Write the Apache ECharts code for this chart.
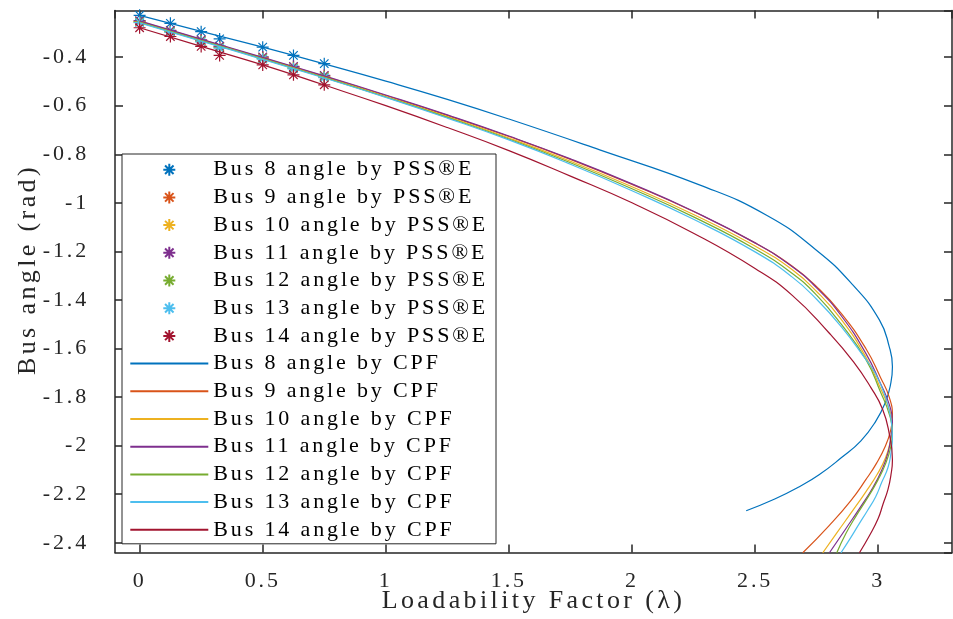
<!DOCTYPE html>
<html><head><meta charset="utf-8">
<script src="https://cdn.jsdelivr.net/npm/echarts@6/dist/echarts.min.js"></script>
<style>
html,body{margin:0;padding:0;background:#fff;}
#main{width:953px;height:619px;}
</style></head><body><div id="main"></div>
<script>
// ---- data ----
const busNumbers = [8, 9, 10, 11, 12, 13, 14];
const colors = ['#0072BD', '#D95319', '#EDB120', '#7E2F8E', '#77AC30', '#4DBEEE', '#A2142F'];

// PSS®E results (markers): loadability factor and bus angle (rad)
const psseLambda = [0, 0.125, 0.25, 0.325, 0.5, 0.625, 0.75];
const psseBus8  = [-0.228, -0.261, -0.295, -0.325, -0.359, -0.393, -0.427];
const psseBus9  = [-0.252, -0.292, -0.331, -0.357, -0.401, -0.440, -0.477];
const psseBus10 = [-0.254, -0.294, -0.333, -0.359, -0.403, -0.443, -0.480];
const psseBus11 = [-0.250, -0.290, -0.329, -0.355, -0.399, -0.438, -0.475];
const psseBus12 = [-0.256, -0.296, -0.335, -0.361, -0.406, -0.446, -0.482];
const psseBus13 = [-0.258, -0.298, -0.337, -0.363, -0.408, -0.448, -0.485];
const psseBus14 = [-0.279, -0.315, -0.356, -0.393, -0.432, -0.473, -0.514];

// CPF results (curves): [lambda, angle]
const cpfBus8 = [[0,-0.228],[0.25,-0.294],[0.5,-0.359],[0.75,-0.428],[1.0,-0.499],[1.25,-0.574],[1.5,-0.655],[1.869,-0.782],[2.274,-0.926],[2.545,-1.050],[2.748,-1.194],[2.897,-1.338],[3.005,-1.482],[3.045,-1.592],[3.058,-1.675],[3.05,-1.75],[3.03,-1.82],[2.99,-1.90],[2.93,-1.98],[2.85,-2.05],[2.76,-2.12],[2.68,-2.169],[2.58,-2.22],[2.464,-2.268]];
const cpfBus9 = [[0,-0.253],[0.25,-0.328],[0.5,-0.403],[0.75,-0.479],[1.0,-0.558],[1.25,-0.640],[1.5,-0.727],[1.75,-0.821],[2.0,-0.924],[2.25,-1.036],[2.5,-1.165],[2.65,-1.26],[2.75,-1.345],[2.85,-1.455],[2.95,-1.60],[3.01,-1.72],[3.045,-1.80],[3.058,-1.88],[3.05,-1.94],[3.03,-2.00],[2.995,-2.07],[2.95,-2.14],[2.89,-2.225],[2.80,-2.33],[2.694,-2.441]];
const cpfBus10 = [[0,-0.255],[0.25,-0.330],[0.5,-0.405],[0.75,-0.482],[1.0,-0.562],[1.25,-0.645],[1.5,-0.733],[1.75,-0.829],[2.0,-0.934],[2.25,-1.048],[2.5,-1.178],[2.65,-1.275],[2.75,-1.365],[2.85,-1.48],[2.95,-1.635],[3.01,-1.765],[3.045,-1.85],[3.058,-1.92],[3.05,-1.98],[3.03,-2.05],[2.995,-2.12],[2.95,-2.19],[2.895,-2.27],[2.835,-2.355],[2.775,-2.441]];
const cpfBus11 = [[0,-0.251],[0.25,-0.326],[0.5,-0.401],[0.75,-0.477],[1.0,-0.556],[1.25,-0.638],[1.5,-0.725],[1.75,-0.819],[2.0,-0.922],[2.25,-1.035],[2.5,-1.165],[2.65,-1.262],[2.75,-1.35],[2.85,-1.465],[2.95,-1.62],[3.01,-1.745],[3.045,-1.83],[3.058,-1.90],[3.052,-1.96],[3.04,-2.03],[3.015,-2.10],[2.98,-2.17],[2.93,-2.25],[2.87,-2.34],[2.802,-2.441]];
const cpfBus12 = [[0,-0.257],[0.25,-0.332],[0.5,-0.407],[0.75,-0.484],[1.0,-0.564],[1.25,-0.648],[1.5,-0.737],[1.75,-0.835],[2.0,-0.942],[2.25,-1.058],[2.5,-1.19],[2.65,-1.29],[2.75,-1.38],[2.85,-1.50],[2.95,-1.645],[3.01,-1.78],[3.045,-1.87],[3.058,-1.945],[3.05,-2.01],[3.03,-2.075],[3.0,-2.14],[2.96,-2.21],[2.91,-2.29],[2.87,-2.36],[2.832,-2.441]];
const cpfBus13 = [[0,-0.259],[0.25,-0.334],[0.5,-0.409],[0.75,-0.486],[1.0,-0.566],[1.25,-0.651],[1.5,-0.741],[1.75,-0.841],[2.0,-0.95],[2.25,-1.068],[2.5,-1.202],[2.65,-1.305],[2.75,-1.397],[2.85,-1.51],[2.95,-1.645],[2.99,-1.705],[3.03,-1.80],[3.05,-1.88],[3.058,-1.963],[3.052,-2.03],[3.04,-2.09],[3.015,-2.15],[2.99,-2.21],[2.955,-2.27],[2.924,-2.32],[2.888,-2.38],[2.849,-2.441]];
const cpfBus14 = [[0,-0.279],[0.25,-0.356],[0.5,-0.432],[0.75,-0.515],[1.0,-0.600],[1.25,-0.690],[1.5,-0.785],[1.75,-0.89],[2.0,-1.0],[2.25,-1.125],[2.5,-1.27],[2.65,-1.38],[2.8,-1.535],[2.9,-1.655],[2.97,-1.76],[3.018,-1.85],[3.045,-1.95],[3.058,-2.059],[3.052,-2.12],[3.04,-2.18],[3.02,-2.24],[3.0,-2.30],[2.965,-2.37],[2.924,-2.441]];

const xTitle = 'Loadability Factor (λ)';
const yTitle = 'Bus angle (rad)';
// ---------------------------------------------

// letter spacing for canvas text (the reference text is widely spaced)
(function () {
  const proto = CanvasRenderingContext2D.prototype;
  const orig = proto.fillText;
  proto.fillText = function (t, x, y, mw) {
    const f = this.font;
    const m = /(\d+(?:\.\d+)?)px/.exec(f);
    const fs = m ? parseFloat(m[1]) : 12;
    const prev = this.letterSpacing;
    this.letterSpacing = (fs * 0.13).toFixed(2) + 'px';
    this.font = f;
    const r = mw === undefined ? orig.call(this, t, x, y) : orig.call(this, t, x, y, mw);
    this.letterSpacing = prev;
    this.font = f;
    return r;
  };
})();

const psseAll = [psseBus8, psseBus9, psseBus10, psseBus11, psseBus12, psseBus13, psseBus14];
const cpfAll = [cpfBus8, cpfBus9, cpfBus10, cpfBus11, cpfBus12, cpfBus13, cpfBus14];
const FONT = 'Liberation Serif';
const asterisk = 'path://M10,0L10,20M0,10L20,10M2.93,2.93L17.07,17.07M2.93,17.07L17.07,2.93';

const series = [];
const legendNames = [];
busNumbers.forEach((n, i) => {
  const name = 'Bus ' + n + ' angle by PSS®E';
  legendNames.push(name);
  series.push({
    type: 'scatter', name: name,
    data: psseLambda.map((l, k) => [l, psseAll[i][k]]),
    symbol: asterisk, symbolSize: 12,
    itemStyle: { color: colors[i], borderColor: colors[i], borderWidth: 1.2, opacity: 1 },
    z: 2, silent: true
  });
});
busNumbers.forEach((n, i) => {
  const name = 'Bus ' + n + ' angle by CPF';
  legendNames.push(name);
  series.push({
    type: 'line', name: name, data: cpfAll[i],
    symbol: 'none', showSymbol: false, smooth: 0.5, clip: true,
    lineStyle: { width: 1.2, color: colors[i] },
    itemStyle: { color: colors[i], opacity: 0 },
    z: 3, silent: true
  });
});

const legLeft = 122, legRight = 495, padL = 7.3;

const axisCol = '#262626';
function xAx(pos, main) {
  return {
    type: 'value', position: pos, min: -0.1, max: 3.3, splitNumber: 7,
    axisLine: { show: true, onZero: false, lineStyle: { color: axisCol, width: 1.5 } },
    axisTick: { show: true, inside: true, length: 8, lineStyle: { color: axisCol, width: 1.5 } },
    axisLabel: { show: main, margin: 18, fontFamily: FONT, fontSize: 22, color: axisCol, showMinLabel: false, showMaxLabel: false },
    splitLine: { show: false },
    name: main ? xTitle : '', nameLocation: 'middle', nameGap: 36, nameMoveOverlap: false,
    nameTextStyle: { fontFamily: FONT, fontSize: 26, color: axisCol }
  };
}
function yAx(pos, main) {
  return {
    type: 'value', position: pos, min: -2.44, max: -0.208, splitNumber: 10,
    axisLine: { show: true, onZero: false, lineStyle: { color: axisCol, width: 1.5 } },
    axisTick: { show: true, inside: true, length: 8, lineStyle: { color: axisCol, width: 1.5 } },
    axisLabel: { show: main, margin: 26, fontFamily: FONT, fontSize: 22, color: axisCol, showMinLabel: false, showMaxLabel: false },
    splitLine: { show: false },
    name: main ? yTitle : '', nameLocation: 'middle', nameGap: 74, nameMoveOverlap: false,
    nameTextStyle: { fontFamily: FONT, fontSize: 26, color: axisCol, padding: [0, 0, 0, 24] }
  };
}

const chart = echarts.init(document.getElementById('main'), null, { renderer: 'canvas' });
// legend box width from the widest label, measured by the library itself
let maxW = 0;
legendNames.forEach(t => { maxW = Math.max(maxW, echarts.format.getTextRect ? echarts.format.getTextRect(t, '22px Liberation Serif').width : 215); });
const padR = Math.max(4, legRight - legLeft - padL - 78 - 5 - maxW);
chart.setOption({
  animation: false,
  backgroundColor: '#fff',
  textStyle: { fontFamily: FONT },
  grid: { left: 115, right: 1, top: 10.5, bottom: 66.5, containLabel: false, outerBoundsMode: 'none' },
  xAxis: [xAx('bottom', true), xAx('top', false)],
  yAxis: [yAx('left', true), yAx('right', false)],
  legend: {
    orient: 'vertical', left: legLeft, top: 154,
    itemWidth: 78, itemHeight: 12, itemGap: 5.7,
    padding: [4.7, padR, 3, padL],
    backgroundColor: '#fff', borderColor: axisCol, borderWidth: 1, borderRadius: 0,
    textStyle: { fontFamily: FONT, fontSize: 22, color: '#000', lineHeight: 22 },
    selectedMode: false,
    data: legendNames
  },
  series: series
});
</script></body></html>
